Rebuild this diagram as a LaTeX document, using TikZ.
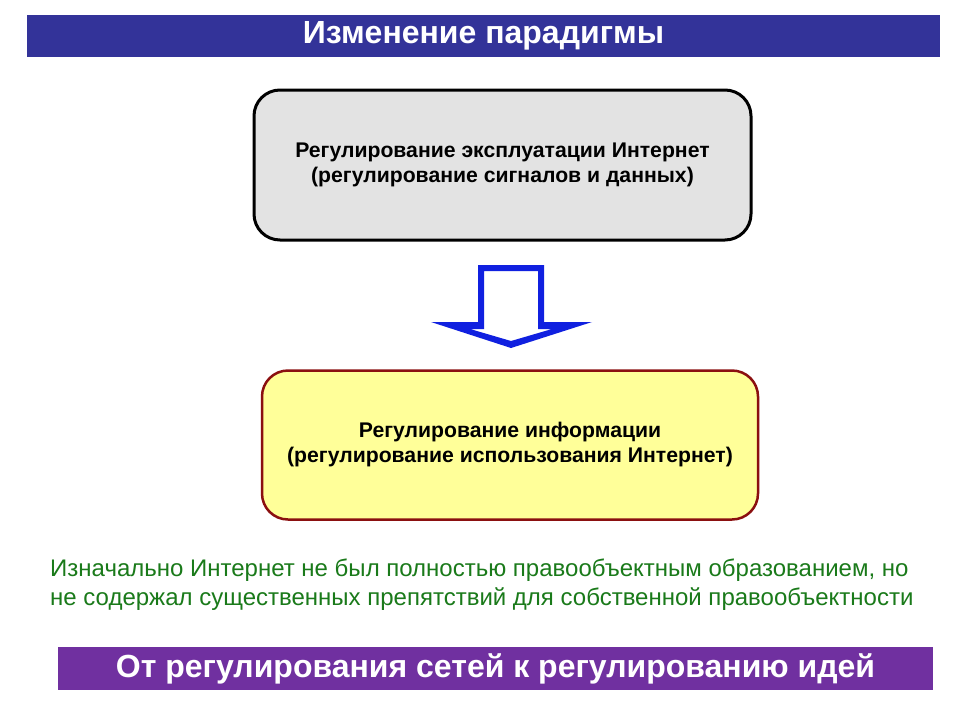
\documentclass[tikz,border=0pt]{standalone}
\usepackage{fontspec}
\setmainfont{Liberation Sans}
\definecolor{titleblue}{HTML}{333399}
\definecolor{barpurple}{HTML}{7030A0}
\definecolor{boxgray}{HTML}{E3E3E3}
\definecolor{boxyellow}{HTML}{FFFF99}
\definecolor{boxred}{HTML}{8B1010}
\definecolor{textgreen}{HTML}{1A7A1A}
\definecolor{arrowblue}{HTML}{1020E0}
\begin{document}
\begin{tikzpicture}[x=1pt,y=-1pt,
  bar/.style={inner sep=0pt, text=white, font=\bfseries\fontsize{32}{36}\selectfont},
  paradigmbox/.style={rounded corners=26pt, align=center, inner sep=0pt,
     font=\bfseries\fontsize{21.2}{25}\selectfont},
  note/.style={align=left, inner sep=0pt, text=textgreen, anchor=north west,
     font=\fontsize{24}{28.5}\selectfont}]
\useasboundingbox (0,0) rectangle (960,720);
\fill[white] (0,0) rectangle (960,720);
% title bar
\node[bar, fill=titleblue, minimum width=913pt, minimum height=42pt] (title) at (483.5,36) {Изменение парадигмы};
% boxes
\node[paradigmbox, draw=black, line width=3pt, fill=boxgray, minimum width=497pt, minimum height=150pt] (top) at (502.5,165)
  {Регулирование эксплуатации Интернет\\(регулирование сигналов и данных)};
\node[paradigmbox, draw=boxred, line width=2.5pt, fill=boxyellow, minimum width=496pt, minimum height=149pt] (bottom) at (510,445)
  {Регулирование информации\\(регулирование использования Интернет)};
% hollow block arrow
\fill[arrowblue, even odd rule]
  (478,265) -- (544,265) -- (544,322) -- (592,322) -- (511,348) -- (431,322) -- (478,322) -- cycle
  (484,271) -- (538,271) -- (538,329) -- (552,329) -- (511,341) -- (470,329) -- (484,329) -- cycle;
% green note
\node[note] (note) at (50,559)
  {Изначально Интернет не был полностью правообъектным образованием, но\\
   не содержал существенных препятствий для собственной правообъектности};
% bottom bar
\node[bar, fill=barpurple, minimum width=875pt, minimum height=43pt] (footer) at (495.5,668.5) {От регулирования сетей к регулированию идей};
\end{tikzpicture}
\end{document}
